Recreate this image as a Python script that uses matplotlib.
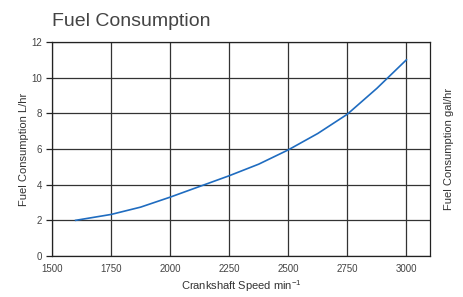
import matplotlib
matplotlib.use("Agg")
import matplotlib.pyplot as plt

# values
speed = [1600, 1750, 1875, 2000, 2125, 2250, 2375, 2500, 2625, 2750, 2875, 3000]
fuel_lhr = [2.0, 2.33, 2.74, 3.3, 3.9, 4.5, 5.15, 5.95, 6.87, 7.95, 9.4, 11.0]
xticks = [1500, 1750, 2000, 2250, 2500, 2750, 3000]
yticks = [0, 2, 4, 6, 8, 10, 12]

plt.rcParams['font.family'] = ['Liberation Sans', 'DejaVu Sans']
plt.rcParams['mathtext.fontset'] = 'custom'
plt.rcParams['mathtext.rm'] = 'Liberation Sans'

fig = plt.figure(figsize=(4.63, 2.97), dpi=100)
ax = fig.add_axes([52 / 463, 1 - 256 / 297, 378 / 463, 214 / 297])

ax.plot(speed, fuel_lhr, color='#1f6cc0', lw=1.2, zorder=3)

ax.set_xlim(1500, 3100)
ax.set_ylim(0, 12)
ax.set_xticks(xticks)
ax.set_yticks(yticks)
ax.grid(True, color='#333333', lw=0.9)
ax.tick_params(axis='x', length=0, pad=6, labelsize=7, labelcolor='#444444')
ax.tick_params(axis='y', length=4, width=0.9, color='#222222', labelsize=7,
               labelcolor='#444444', pad=3)
for s in ax.spines.values():
    s.set_color('#222222')
    s.set_linewidth(0.9)

ax.set_xlabel(r'Crankshaft Speed min$^{\mathrm{-1}}$', fontsize=8,
              color='#333333', labelpad=3)
ax.set_ylabel('Fuel Consumption L/hr', fontsize=8, color='#333333', labelpad=2)

ax2 = ax.twinx()
ax2.set_ylim(0, 12)
ax2.set_yticks([])
ax2.set_ylabel('Fuel Consumption gal/hr', fontsize=8, color='#333333', labelpad=10)
for s in ax2.spines.values():
    s.set_visible(False)

fig.text(52 / 463, 1 - 26 / 297, 'Fuel Consumption', fontsize=14, color='#444444',
         ha='left', va='baseline')

fig.savefig('out.png', dpi=100)
